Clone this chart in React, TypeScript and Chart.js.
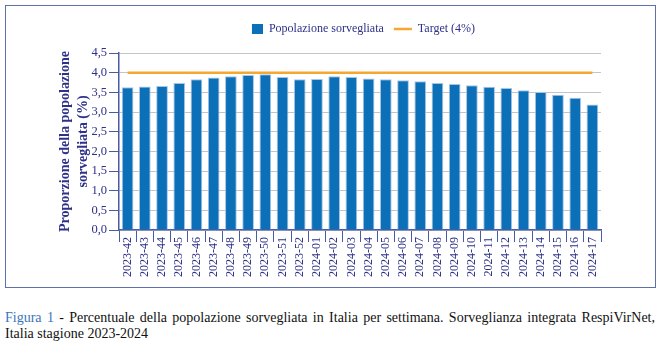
import React, { useEffect, useRef } from 'react';
import { Chart, registerables } from 'chart.js';

Chart.register(...registerables);

const weeks = [
  '2023-42', '2023-43', '2023-44', '2023-45', '2023-46', '2023-47', '2023-48',
  '2023-49', '2023-50', '2023-51', '2023-52', '2024-01', '2024-02', '2024-03',
  '2024-04', '2024-05', '2024-06', '2024-07', '2024-08', '2024-09', '2024-10',
  '2024-11', '2024-12', '2024-13', '2024-14', '2024-15', '2024-16', '2024-17',
];

const surveilledPct = [
  3.63, 3.65, 3.66, 3.74, 3.83, 3.88, 3.91,
  3.94, 3.96, 3.89, 3.83, 3.84, 3.91, 3.89,
  3.85, 3.83, 3.81, 3.78, 3.74, 3.71, 3.68,
  3.64, 3.61, 3.55, 3.51, 3.44, 3.36, 3.19,
];

const targetPct = [
  4, 4, 4, 4, 4, 4, 4,
  4, 4, 4, 4, 4, 4, 4,
  4, 4, 4, 4, 4, 4, 4,
  4, 4, 4, 4, 4, 4, 4,
];

const seriesLabels = ['Popolazione sorvegliata', 'Target (4%)'];
const yTitleLines = ['Proporzione della popolazione', 'sorvegliata (%)'];
const yMin = 0;
const yMax = 4.5;
const yStep = 0.5;

const BAR = '#0B70B8';
const BAR_EDGE = '#A9C3E3';
const ORANGE = '#F5A732';
const NAVY = '#2E3188';
const AXIS = '#4A5BA6';
const GRID = '#C4C4C4';
const SERIF = "'Liberation Serif', 'Times New Roman', serif";

export default function App() {
  const ref = useRef<HTMLCanvasElement | null>(null);

  useEffect(() => {
    const canvas = ref.current;
    if (!canvas) return;

    const swatch = document.createElement('canvas');
    swatch.width = 18;
    swatch.height = 10;
    const sctx = swatch.getContext('2d');
    if (sctx) {
      sctx.fillStyle = BAR;
      sctx.fillRect(7, 0, 11, 10);
    }

    const legendHeight = {
      id: 'legendHeight',
      afterInit(chart: any) {
        const lg = chart.legend;
        if (!lg) return;
        const orig = lg.fit;
        lg.fit = function () {
          orig.call(this);
          this.height = 40;
        };
      },
    };

    const chart = new Chart(canvas, {
      type: 'bar',
      data: {
        labels: weeks,
        datasets: [
          {
            type: 'bar',
            label: seriesLabels[0],
            data: surveilledPct,
            backgroundColor: BAR,
            borderColor: BAR_EDGE,
            borderWidth: 1,
            barPercentage: 0.68,
            categoryPercentage: 1,
          },
          {
            type: 'line',
            label: seriesLabels[1],
            data: targetPct,
            borderColor: ORANGE,
            backgroundColor: ORANGE,
            borderWidth: 2.5,
            pointRadius: 0,
            pointHoverRadius: 0,
            fill: false,
          },
        ],
      } as any,
      options: {
        animation: false,
        responsive: false,
        maintainAspectRatio: false,
        layout: { padding: { top: 13, left: 30, right: 60, bottom: 0 } },
        plugins: {
          tooltip: { enabled: false },
          legend: {
            position: 'top',
            fullSize: false,
            labels: {
              usePointStyle: true,
              pointStyleWidth: 18,
              boxHeight: 10,
              padding: 10,
              color: NAVY,
              font: { family: SERIF, size: 12 },
              generateLabels: (ch: any) => {
                const items = (Chart.defaults.plugins.legend.labels as any).generateLabels(ch);
                if (items[0]) {
                  items[0].pointStyle = swatch;
                  items[0].lineWidth = 0;
                }
                if (items[1]) {
                  items[1].pointStyle = 'line';
                  items[1].strokeStyle = ORANGE;
                  items[1].lineWidth = 2.5;
                }
                return items;
              },
            },
          },
        },
        scales: {
          x: {
            offset: true,
            grid: {
              display: true,
              drawOnChartArea: false,
              drawTicks: true,
              tickLength: 12,
              tickColor: AXIS,
              tickWidth: 1,
            },
            border: { display: true, color: AXIS, width: 1.5 },
            ticks: {
              autoSkip: false,
              minRotation: 90,
              maxRotation: 90,
              padding: -5,
              color: NAVY,
              font: { family: SERIF, size: 12 },
            },
            afterFit: (scale: any) => {
              scale.height = 60;
            },
          },
          y: {
            min: yMin,
            max: yMax,
            grid: {
              color: GRID,
              lineWidth: 1,
              tickLength: 10,
              tickColor: AXIS,
            },
            border: { display: true, color: AXIS, width: 1.5 },
            ticks: {
              stepSize: yStep,
              padding: 2,
              color: NAVY,
              font: { family: SERIF, size: 12.5 },
              callback: (v: any) => Number(v).toFixed(1).replace('.', ','),
            },
            title: {
              display: true,
              text: yTitleLines,
              color: NAVY,
              font: { family: SERIF, size: 14, weight: 'bold', lineHeight: 1.3 },
              padding: { top: 25.9, bottom: 0 },
            },
            afterFit: (scale: any) => {
              scale.width = 89;
            },
          },
        },
      } as any,
      plugins: [legendHeight],
    });

    return () => {
      chart.destroy();
    };
  }, []);

  return (
    <div
      style={{
        position: 'absolute',
        left: 0,
        top: 0,
        width: 661,
        height: 351,
        background: '#ffffff',
        fontFamily: SERIF,
      }}
    >
      <div
        style={{
          position: 'absolute',
          left: 5,
          top: 5,
          width: 651,
          height: 283,
          boxSizing: 'border-box',
          border: '1.5px solid #5F6FA8',
        }}
      />
      <canvas
        ref={ref}
        width={661}
        height={290}
        style={{ position: 'absolute', left: 0, top: 0, width: 661, height: 290 }}
      />
      <div
        style={{
          position: 'absolute',
          left: 5,
          top: 310,
          width: 650,
          fontSize: 14,
          lineHeight: '16px',
          color: '#111111',
        }}
      >
        <div style={{ textAlign: 'justify', textAlignLast: 'justify', whiteSpace: 'nowrap' as any }}>
          <span style={{ color: '#3B73B9' }}>Figura 1</span> - Percentuale della popolazione sorvegliata in Italia per settimana. Sorveglianza integrata RespiVirNet,
        </div>
        <div>Italia stagione 2023-2024</div>
      </div>
    </div>
  );
}
